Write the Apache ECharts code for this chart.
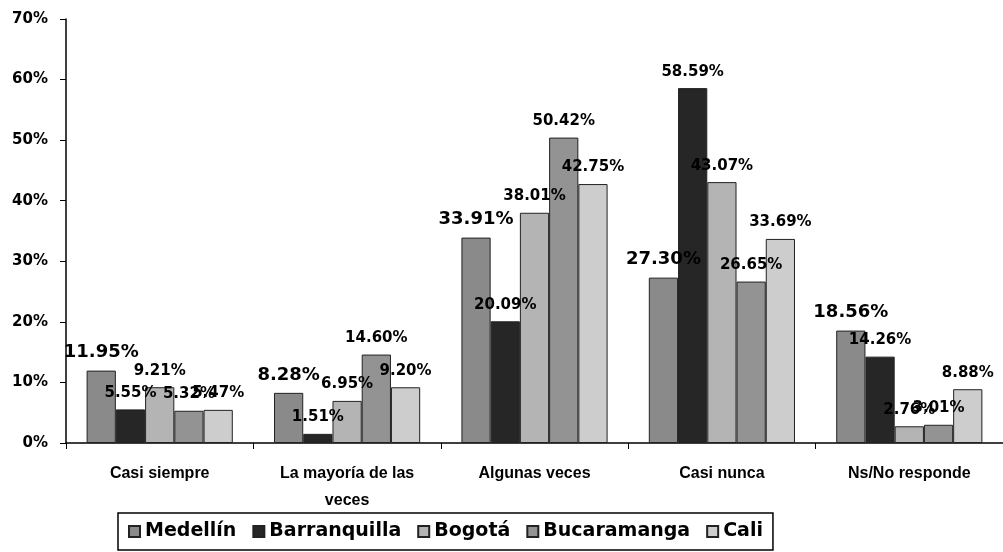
<!DOCTYPE html>
<html>
<head>
<meta charset="utf-8">
<script src="https://cdn.jsdelivr.net/npm/echarts@6/dist/echarts.min.js"></script>
<style>
  html, body { margin: 0; padding: 0; background: #fff; }
  #chart { width: 1003px; height: 552px; }
</style>
</head>
<body>
<div id="chart"></div>
<script>
var categories = ['Casi siempre', 'La mayoría de las veces', 'Algunas veces', 'Casi nunca', 'Ns/No responde']
var medellin = [11.95, 8.28, 33.91, 27.30, 18.56]
var barranquilla = [5.55, 1.51, 20.09, 58.59, 14.26]
var bogota = [9.21, 6.95, 38.01, 43.07, 2.76]
var bucaramanga = [5.32, 14.60, 50.42, 26.65, 3.01]
var cali = [5.47, 9.20, 42.75, 33.69, 8.88]
var yTicks = [0, 10, 20, 30, 40, 50, 60, 70]

var myChart = echarts.init(document.getElementById('chart'))

function makeSeries(name, data, color, labelSize) {
  return {
    name: name,
    type: 'bar',
    data: data,
    barGap: '0%',
    barCategoryGap: '22%',
    itemStyle: {
      color: color,
      borderColor: '#222',
      borderWidth: 1
    },
    label: {
      show: true,
      position: 'top',
      distance: 9,
      color: '#000',
      fontFamily: 'DejaVu Sans',
      fontWeight: 'bold',
      fontSize: labelSize,
      formatter: function (p) { return p.value.toFixed(2) + '%' }
    }
  }
}

var option = {
  animation: false,
  backgroundColor: '#fff',
  grid: {
    left: 66,
    right: -15,
    top: 19,
    bottom: 109,
    containLabel: false
  },
  legend: {
    left: 118,
    top: 513,
    padding: [9, 10, 9, 10],
    borderColor: '#000',
    borderWidth: 1.5,
    itemWidth: 11,
    itemHeight: 11,
    itemGap: 16,
    icon: 'rect',
    textStyle: {
      fontFamily: 'DejaVu Sans',
      fontWeight: 'bold',
      fontSize: 19,
      color: '#000'
    },
    data: ['Medellín', 'Barranquilla', 'Bogotá', 'Bucaramanga', 'Cali']
  },
  xAxis: {
    type: 'category',
    data: categories,
    axisLine: { lineStyle: { color: '#000', width: 1.5 } },
    axisTick: { show: true, length: 6, lineStyle: { color: '#000' } },
    axisLabel: {
      margin: 17,
      color: '#000',
      fontFamily: 'Liberation Sans',
      fontWeight: 'bold',
      fontSize: 16,
      lineHeight: 27,
      interval: 0,
      formatter: function (v) { return v.replace(' las veces', ' las\nveces') }
    }
  },
  yAxis: {
    type: 'value',
    min: yTicks[0],
    max: yTicks[yTicks.length - 1],
    interval: 10,
    splitLine: { show: false },
    axisLine: { show: true, lineStyle: { color: '#000', width: 1.5 } },
    axisTick: { show: true, length: 6, lineStyle: { color: '#000' } },
    axisLabel: {
      margin: 18,
      color: '#000',
      fontFamily: 'DejaVu Sans',
      fontWeight: 'bold',
      fontSize: 15,
      formatter: '{value}%'
    }
  },
  series: [
    makeSeries('Medellín', medellin, '#8a8a8a', 18),
    makeSeries('Barranquilla', barranquilla, '#262626', 15),
    makeSeries('Bogotá', bogota, '#b4b4b4', 15),
    makeSeries('Bucaramanga', bucaramanga, '#939393', 15),
    makeSeries('Cali', cali, '#cdcdcd', 15)
  ]
}

option && myChart.setOption(option)
</script>
</body>
</html>
